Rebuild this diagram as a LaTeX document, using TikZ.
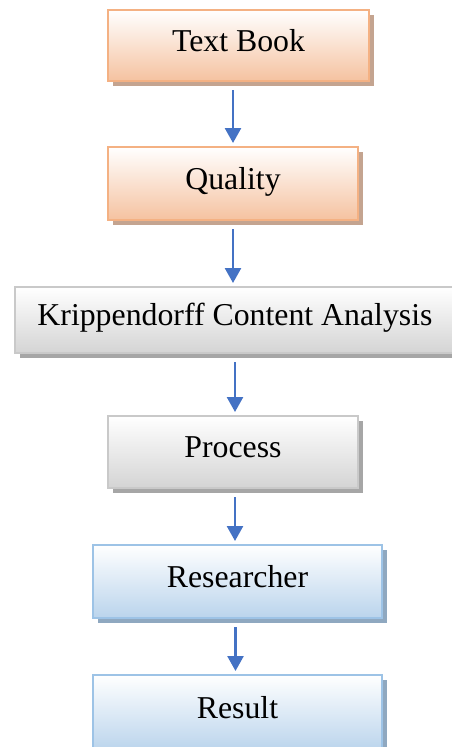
\documentclass[tikz,border=0pt]{standalone}
\usepackage{fontspec}
\setmainfont{Liberation Serif}
\usetikzlibrary{shadows,arrows.meta}
\definecolor{orBorder}{HTML}{F4B183}
\definecolor{orFill}{HTML}{F5C2A0}
\definecolor{orShadow}{HTML}{C4A490}
\definecolor{grBorder}{HTML}{C9C9C9}
\definecolor{grFill}{HTML}{D4D4D4}
\definecolor{grShadow}{HTML}{A6A6A6}
\definecolor{blBorder}{HTML}{9DC3E6}
\definecolor{blFill}{HTML}{BAD4EC}
\definecolor{blShadow}{HTML}{8FA8C0}
\definecolor{arrCol}{HTML}{4472C4}
\tikzset{
  box/.style={rectangle, line width=2pt, inner sep=0pt, align=center,
    text height=22pt, text depth=11pt,
    font=\fontsize{31.8}{38}\selectfont},
  orbox/.style={box, draw=orBorder, top color=white, bottom color=orFill,
    general shadow={fill=orShadow, shadow xshift=5pt, shadow yshift=-5pt}},
  grbox/.style={box, draw=grBorder, top color=white, bottom color=grFill,
    general shadow={fill=grShadow, shadow xshift=5pt, shadow yshift=-5pt}},
  blbox/.style={box, draw=blBorder, top color=white, bottom color=blFill,
    general shadow={fill=blShadow, shadow xshift=5pt, shadow yshift=-5pt}},
  arr/.style={draw=arrCol, line width=2.6pt,
    -{Triangle[length=15pt,width=16pt]}, shorten <=8pt, shorten >=3pt}
}
\begin{document}
\begin{tikzpicture}[x=1pt,y=1pt]
\useasboundingbox (0,0) rectangle (452,-747);
\clip (0,0) rectangle (452,-747);
\node[orbox, minimum width=261pt, minimum height=71pt] (A) at (238.5,-45.5) {Text Book};
\node[orbox, minimum width=250pt, minimum height=73pt] (B) at (233,-183.5) {Quality};
\node[grbox, minimum width=440pt, minimum height=66pt] (C) at (235,-320) {Krippendorff Content Analysis};
\node[grbox, minimum width=250pt, minimum height=72pt] (D) at (233,-452) {Process};
\node[blbox, minimum width=289pt, minimum height=73pt] (E) at (237.5,-581.5) {Researcher};
\node[blbox, minimum width=289pt, minimum height=76pt] (F) at (237.5,-713) {Result};
\draw[arr] (A.south -| B.north) -- (B.north);
\draw[arr] (B.south) -- (B.south |- C.north);
\draw[arr] (C.south) -- (C.south |- D.north);
\draw[arr] ([xshift=2pt]D.south) -- ([xshift=2pt]D.south |- E.north);
\draw[arr] ([xshift=-2pt]E.south) -- ([xshift=-2pt]E.south |- F.north);
\end{tikzpicture}
\end{document}
